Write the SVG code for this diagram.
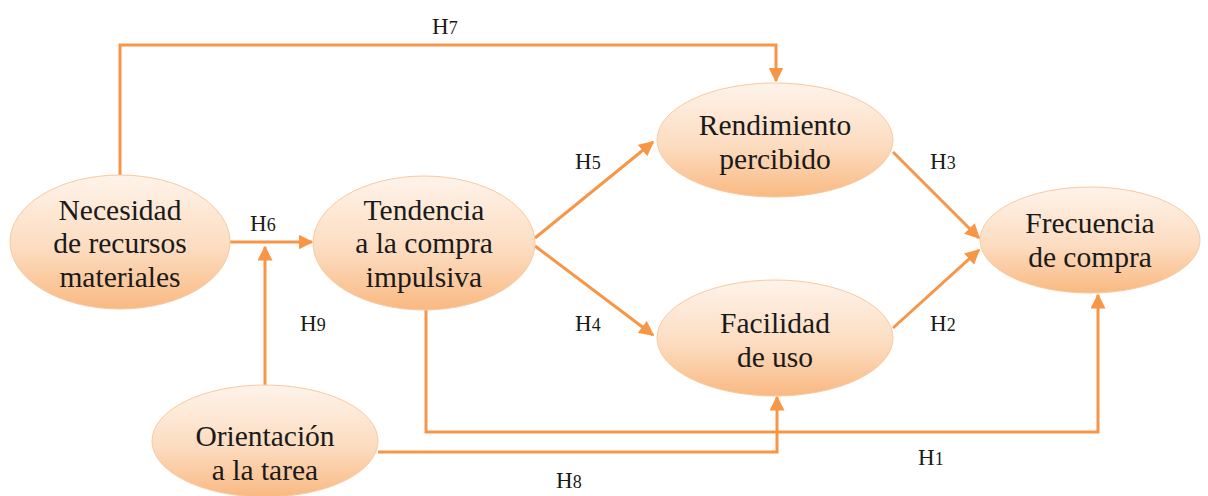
<svg xmlns="http://www.w3.org/2000/svg" width="1208" height="496" viewBox="0 0 1208 496">
<defs>
<linearGradient id="g" x1="0" y1="0" x2="0" y2="1">
<stop offset="0" stop-color="#FEF3EA"/>
<stop offset="0.55" stop-color="#FCDCC0"/>
<stop offset="1" stop-color="#F9B982"/>
</linearGradient>
<marker id="ah" viewBox="0 0 10 10" refX="9" refY="5" markerWidth="5" markerHeight="5" orient="auto" markerUnits="strokeWidth">
<path d="M0,0 L10,5 L0,10 z" fill="#F79646"/>
</marker>
<style>
.n{fill:url(#g);stroke:#F9C9A0;stroke-width:1}
.t{font-family:"Liberation Serif",serif;font-size:29.5px;fill:#1a1a1a;text-anchor:middle}
.l{font-family:"Liberation Serif",serif;font-size:23px;fill:#1a1a1a}
.s{font-size:18px}
.c{fill:none;stroke:#F79646;stroke-width:3;marker-end:url(#ah)}
</style>
</defs>
<g id="connectors">
<path class="c" d="M120,175 V45 H776 V81"/>
<path class="c" d="M230,242 H312"/>
<path class="c" d="M265,386 V247"/>
<path class="c" d="M535,238 L653,142"/>
<path class="c" d="M535,246 L653,335"/>
<path class="c" d="M893,152 L979,238"/>
<path class="c" d="M893,328 L979,250"/>
<path class="c" d="M426,310 V432 H1098 V295"/>
<path class="c" d="M378,452 H777 V397"/>
</g>
<g id="labels">
<text class="l" x="432" y="34">H<tspan class="s">7</tspan></text>
<text class="l" x="250" y="231">H<tspan class="s">6</tspan></text>
<text class="l" x="300" y="331">H<tspan class="s">9</tspan></text>
<text class="l" x="575" y="169">H<tspan class="s">5</tspan></text>
<text class="l" x="575" y="331">H<tspan class="s">4</tspan></text>
<text class="l" x="930" y="169">H<tspan class="s">3</tspan></text>
<text class="l" x="930" y="331">H<tspan class="s">2</tspan></text>
<text class="l" x="918" y="465">H<tspan class="s">1</tspan></text>
<text class="l" x="556" y="488">H<tspan class="s">8</tspan></text>
</g>
<g id="necesidad">
<ellipse class="n" cx="120" cy="242" rx="110" ry="67"/>
<text class="t" x="120" y="220">Necesidad</text>
<text class="t" x="120" y="253">de recursos</text>
<text class="t" x="120" y="287">materiales</text>
</g>
<g id="tendencia">
<ellipse class="n" cx="424" cy="243" rx="111" ry="67"/>
<text class="t" x="424" y="220">Tendencia</text>
<text class="t" x="424" y="253">a la compra</text>
<text class="t" x="424" y="287">impulsiva</text>
</g>
<g id="rendimiento">
<ellipse class="n" cx="775" cy="140" rx="118" ry="57"/>
<text class="t" x="775" y="135">Rendimiento</text>
<text class="t" x="775" y="169">percibido</text>
</g>
<g id="facilidad">
<ellipse class="n" cx="775" cy="338" rx="118" ry="58"/>
<text class="t" x="775" y="333">Facilidad</text>
<text class="t" x="775" y="367">de uso</text>
</g>
<g id="frecuencia">
<ellipse class="n" cx="1090" cy="240" rx="110" ry="53"/>
<text class="t" x="1090" y="233">Frecuencia</text>
<text class="t" x="1090" y="267">de compra</text>
</g>
<g id="orientacion">
<ellipse class="n" cx="265" cy="441" rx="113" ry="56"/>
<text class="t" x="265" y="446">Orientación</text>
<text class="t" x="265" y="480">a la tarea</text>
</g>
</svg>
